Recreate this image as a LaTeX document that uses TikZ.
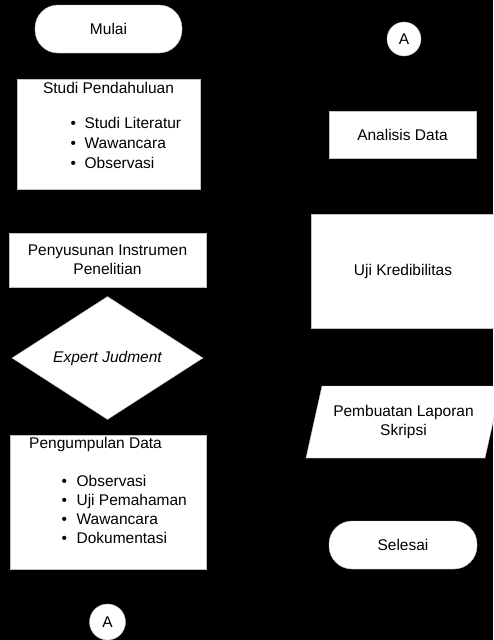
\documentclass[tikz,border=0pt]{standalone}
\usepackage{fontspec}
\setmainfont{Liberation Sans}
\usetikzlibrary{shapes.geometric}

\begin{document}
\begin{tikzpicture}[x=1pt,y=-1pt,
    font=\fontsize{15.5}{19}\selectfont,
    proses/.style={rectangle, fill=white, draw=black!25, inner sep=0pt},
    terminal/.style={rectangle, rounded corners=23pt, fill=white, draw=black!25, inner sep=0pt},
    konektor/.style={circle, fill=white, draw=black!25, inner sep=0pt, minimum size=36pt},
    keputusan/.style={diamond, fill=white, draw=black!25, inner sep=0pt},
    butir/.style={anchor=base west, inner sep=0pt}]
  % latar hitam
  \fill[black] (0,0) rectangle (493,640);
  \useasboundingbox (0,0) rectangle (493,640);

  % kolom kiri
  \node[terminal, minimum width=147pt, minimum height=48pt] (mulai) at (108.5,29) {Mulai};
  \node[proses, minimum width=183pt, minimum height=110pt] (studi) at (108.5,134) {};
  \node[anchor=base, inner sep=0pt] (studi-judul) at (108.5,93) {Studi Pendahuluan};
  \foreach \teks [count=\i] in {Studi Literatur, Wawancara, Observasi}
    \node[butir] (studi-\i) at (70.5,108+20*\i) {\textbullet\hspace{8.5pt}\teks};
  \node[proses, minimum width=197pt, minimum height=54pt, align=center] (instrumen) at (107.5,260)
        {Penyusunan Instrumen\\Penelitian};
  \node[keputusan, minimum width=191pt, minimum height=90pt] (expert) at (107.5,358) {\itshape Expert Judment};
  \node[proses, minimum width=196pt, minimum height=134pt] (kumpul) at (108,502) {};
  \node[anchor=base west, inner sep=0pt] (kumpul-judul) at (29,448) {Pengumpulan Data};
  \foreach \teks [count=\i] in {Observasi, Uji Pemahaman, Wawancara, Dokumentasi}
    \node[butir] (kumpul-\i) at (61.5,468+18.8*\i) {\textbullet\hspace{9.5pt}\teks};
  \node[konektor] (a-bawah) at (107.5,622) {A};

  % kolom kanan
  \node[konektor, minimum size=34pt] (a-atas) at (404,39) {A};
  \node[proses, minimum width=147pt, minimum height=47pt] (analisis) at (402.5,134.5) {Analisis Data};
  \node[proses, minimum width=184pt, minimum height=114pt] (uji) at (403,271) {Uji Kredibilitas};
  \filldraw[fill=white, draw=black!25] (322,386) -- (501,386) -- (485,458) -- (306,458) -- cycle;
  \node[align=center, inner sep=0pt] (laporan) at (403.5,422) {Pembuatan Laporan\\Skripsi};
  \node[terminal, minimum width=148pt, minimum height=48pt] (selesai) at (403,545) {Selesai};
\end{tikzpicture}
\end{document}
